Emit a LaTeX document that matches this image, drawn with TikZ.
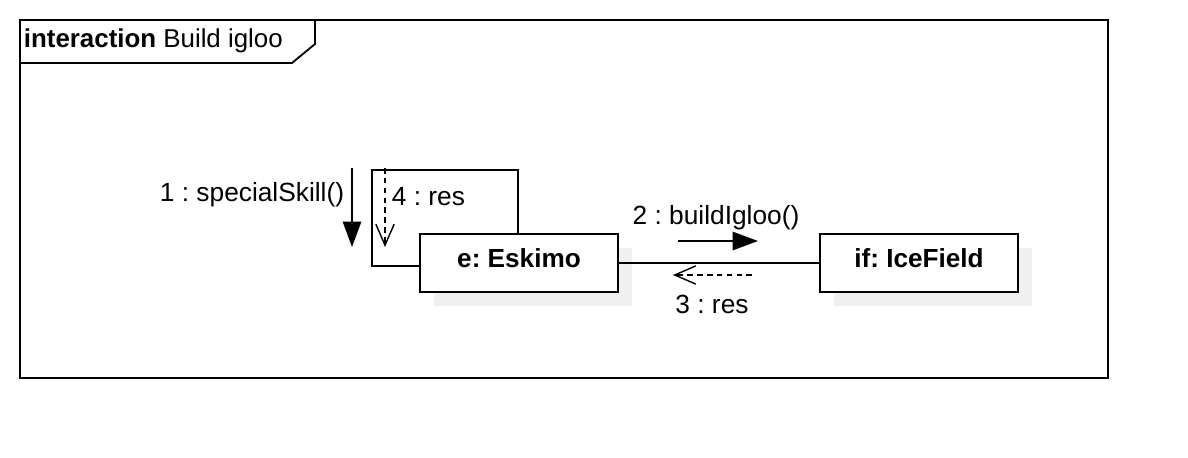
\documentclass[tikz,border=0pt]{standalone}
\usepackage{fontspec}
\setmainfont{Liberation Sans}
\usetikzlibrary{arrows.meta,shadows,positioning}
\frenchspacing

\begin{document}
\begin{tikzpicture}[x=0.025cm, y=-0.025cm, line width=1.3pt,
  font=\fontsize{18.7}{21}\selectfont,
  obj/.style={draw, fill=white, minimum width=4.95cm, minimum height=1.45cm, font=\fontsize{18.6}{21}\selectfont\bfseries,
    text height=0.45cm, text depth=0.25cm,
    drop shadow={shadow xshift=0.35cm, shadow yshift=-0.35cm, fill=black!6, opacity=1}},
  call/.style={-{Triangle[length=18pt,width=13pt]}},
  reply/.style={dash pattern=on 4pt off 3pt, line width=1pt, -{Straight Barb[length=15pt,width=13pt]}}]
\useasboundingbox (0,0) rectangle (1188,458);
% frame
\draw (20,20) rectangle (1108,378);
\draw (20,63) -- (292,63) -- (315,44) -- (315,20);
\node[anchor=west, inner sep=0pt, font=\fontsize{18.4}{21}\selectfont] (title) at (23,41) {\textbf{interaction} Build igloo};
% objects
\node[obj] (eskimo) at (519,263) {e: Eskimo};
\node[obj] (icefield) at (919,263) {if: IceField};
\draw (eskimo) -- (icefield);
% self link
\draw (eskimo.west |- 0,266) -| (372,170) -| (eskimo.north -| 518,0);
% messages
\coordinate (m1a) at (352,168); \coordinate (m1b) at (352,247);
\coordinate (m4a) at (385,168); \coordinate (m4b) at (385,247);
\coordinate (m2a) at (678,241); \coordinate (m2b) at (758,241);
\coordinate (m3a) at (752,275); \coordinate (m3b) at (673,275);
\draw[call] (m1a) -- (m1b);
\draw[reply] (m4a) -- (m4b);
\draw[call] (m2a) -- (m2b);
\draw[reply] (m3a) -- (m3b);
\node[anchor=east, inner sep=0pt] (l1) at (345,195) {1 : specialSkill()};
\node[anchor=west, inner sep=0pt] (l4) at (391,197) {4 : res};
\node[inner sep=0pt] (l2) at (716,218) {2 : buildIgloo()};
\node[inner sep=0pt] (l3) at (712,304) {3 : res};
\end{tikzpicture}
\end{document}
